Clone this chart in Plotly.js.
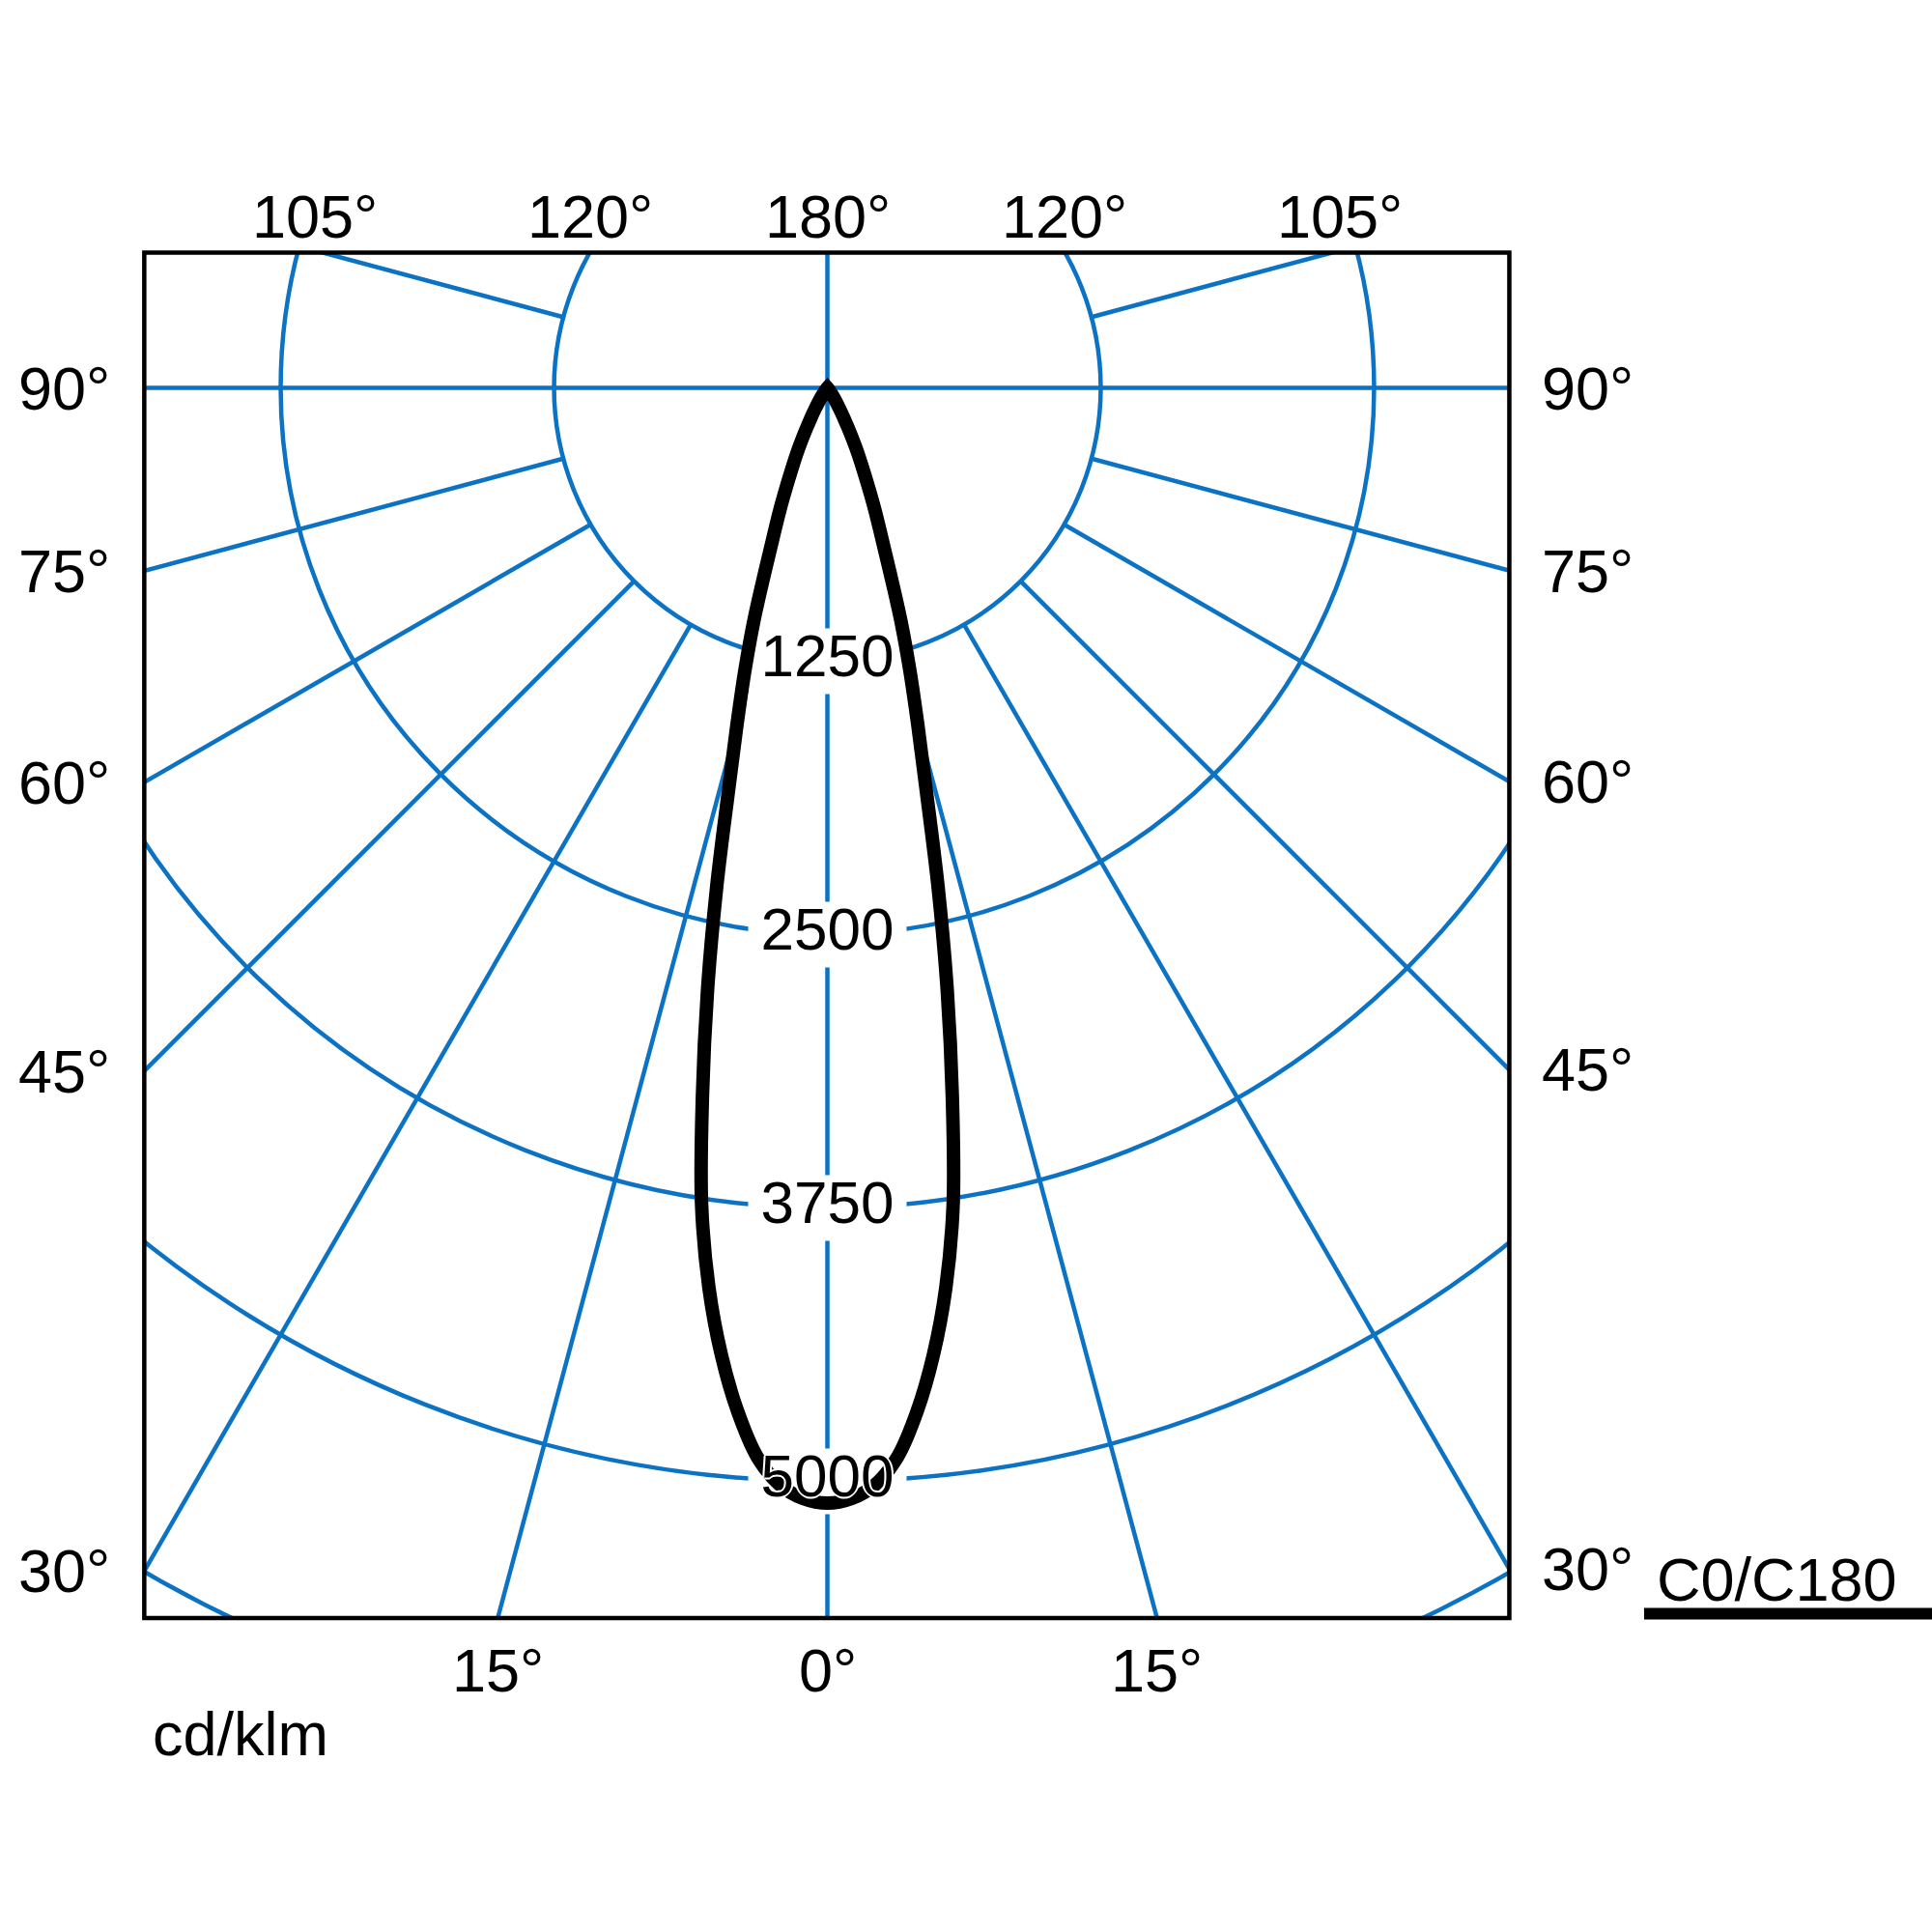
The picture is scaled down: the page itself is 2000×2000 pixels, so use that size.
<!DOCTYPE html>
<html>
<head>
<meta charset="utf-8">
<script src="https://cdn.plot.ly/plotly-3.0.1.min.js"></script>
<style>
html, body { margin: 0; padding: 0; background: #ffffff; overflow: hidden; }
#wrap { position: relative; width: 2000px; height: 2000px; overflow: hidden; background: #ffffff; }
#plot { position: absolute; }
</style>
</head>
<body>
<div id="wrap"><div id="plot"></div></div>
<script>
// ---------------- data ----------------
const gammaDeg      = [0, 1.25, 2.5, 3.75, 5, 6.25, 7.5, 8.75, 10, 11.25, 12.5, 13.75, 15, 16.25, 17.5, 18.75,
                       20, 21.25, 22.5, 23.75, 25, 26.25, 27.5, 28.75, 30, 32.5, 35, 40, 45, 60, 75, 90];
const intensityC0   = [5100, 5080, 5020, 4900, 4700, 4450, 4150, 3780, 3290, 2810, 2340, 1910, 1600, 1350, 1120, 890,
                       720, 600, 490, 400, 330, 260, 200, 155, 115, 65, 35, 8, 0, 0, 0, 0];
const intensityC180 = [5100, 5080, 5020, 4900, 4700, 4450, 4150, 3780, 3290, 2810, 2340, 1910, 1600, 1350, 1120, 890,
                       720, 600, 490, 400, 330, 260, 200, 155, 115, 65, 35, 8, 0, 0, 0, 0];

const ringValues      = [1250, 2500, 3750, 5000, 6250];
const ringLabelValues = [1250, 2500, 3750, 5000];
const ringLabels      = ['1250', '2500', '3750', '5000'];
const spokeAngles     = [15, 30, 45, 60, 75, 105, 120, 135, 150, 165];

const leftTickText     = ['90°', '75°', '60°', '45°', '30°'];
const leftTickAngles   = [-90, -75, -60, -45, -30];
const rightTickText    = ['90°', '75°', '60°', '45°', '30°'];
const rightTickAngles  = [90, 75, 60, 45, 30];
const topTickText      = ['105°', '120°', '180°', '120°', '105°'];
const topTickAngles    = [-105, -120, 180, 120, 105];
const bottomTickText   = ['15°', '0°', '15°'];
const bottomTickAngles = [-15, 0, 15];

const unitLabel = 'cd/klm';
const curveName = 'C0/C180';

// ---------------- geometry / style ----------------
const BLUE = '#0b72c4';
const FONT = 'Liberation Sans, Arial, Helvetica, sans-serif';
const LABEL_SIZE = 63;
const CX = 856.5, CY = 402;            // pole position in the window
const PX_PER_UNIT = 283 / 1250;        // ring spacing
const RMAX = 6500;
const S = 2 * RMAX * PX_PER_UNIT;      // size of the polar plot div
const L = CX - S / 2, T = CY - S / 2;  // div offset inside the window
const BOX = { left: 149.3, right: 1562.5, top: 262, bottom: 1675.5 };
const TOP_LABEL_SHIFT = { 105: 8, 120: 3, 180: 0 };   // outward nudge of the top labels

const el = document.getElementById('plot');
el.style.left = L + 'px';
el.style.top = T + 'px';
el.style.width = S + 'px';
el.style.height = S + 'px';

const px = X => (X - L) / S;
const py = Y => 1 - (Y - T) / S;

// ---------------- traces ----------------
const spokeR = [], spokeT = [];
spokeAngles.forEach(a => {
  [a, -a].forEach(t => { spokeR.push(ringValues[0], RMAX, null); spokeT.push(t, t, null); });
});
spokeR.push(RMAX, 0, RMAX, null, RMAX, 0, RMAX);
spokeT.push(180, 0, 0, null, -90, 0, 90);

const spokes = {
  type: 'scatterpolar', mode: 'lines', r: spokeR, theta: spokeT,
  line: { color: BLUE, width: 4.5 }, hoverinfo: 'skip', showlegend: false
};

// white gaps behind the ring value labels
const GAP_HALF_W = 82, GAP_H = 68;
const gapR = [], gapT = [];
ringLabelValues.forEach(v => {
  const d = Math.atan(GAP_HALF_W / (v * PX_PER_UNIT));
  const rr = v / Math.cos(d);
  const dd = d * 180 / Math.PI;
  gapR.push(rr, rr, null); gapT.push(-dd, dd, null);
});
const gaps = {
  type: 'scatterpolar', mode: 'lines', r: gapR, theta: gapT,
  line: { color: '#ffffff', width: GAP_H }, hoverinfo: 'skip', showlegend: false
};

// intensity curve: C180 half on the left, C0 half on the right
const curveTheta = [], curveR = [];
for (let i = gammaDeg.length - 1; i > 0; i--) { curveTheta.push(-gammaDeg[i]); curveR.push(intensityC180[i]); }
for (let i = 0; i < gammaDeg.length; i++) { curveTheta.push(gammaDeg[i]); curveR.push(intensityC0[i]); }
const curve = {
  type: 'scatterpolar', mode: 'lines', name: curveName, r: curveR, theta: curveTheta,
  line: { color: '#000000', width: 14, shape: 'spline', smoothing: 1 }, showlegend: false
};

const ringText = {
  type: 'scatterpolar', mode: 'text', r: ringLabelValues, theta: ringLabelValues.map(() => 0),
  text: ringLabels, textposition: 'middle center',
  textfont: { family: FONT, size: 62, color: '#000000',
              shadow: '2px 0 0 #fff, -2px 0 0 #fff, 0 2px 0 #fff, 0 -2px 0 #fff' },
  hoverinfo: 'skip', showlegend: false
};

// ---------------- annotations (angle labels outside the frame) ----------------
const rad = a => a * Math.PI / 180;
const ann = [];
const addAnn = (text, X, Y, xanchor) => ann.push({
  text, x: px(X), y: py(Y), xref: 'paper', yref: 'paper', xanchor, yanchor: 'middle',
  showarrow: false, font: { family: FONT, size: LABEL_SIZE, color: '#000000' }
});
leftTickAngles.forEach((a, i) => {
  const t = (BOX.left - CX) / Math.sin(rad(a));
  addAnn(leftTickText[i], BOX.left - 33, CY + t * Math.cos(rad(a)), 'right');
});
rightTickAngles.forEach((a, i) => {
  const t = (BOX.right - CX) / Math.sin(rad(a));
  addAnn(rightTickText[i], BOX.right + 32, CY + t * Math.cos(rad(a)), 'left');
});
topTickAngles.forEach((a, i) => {
  const t = (BOX.top - CY) / Math.cos(rad(a));
  const X = CX + t * Math.sin(rad(a)) + Math.sign(a === 180 ? 0 : a) * TOP_LABEL_SHIFT[Math.abs(a)];
  addAnn(topTickText[i], X, BOX.top - 38, 'center');
});
bottomTickAngles.forEach((a, i) => {
  const t = (BOX.bottom - CY) / Math.cos(rad(a));
  addAnn(bottomTickText[i], CX + t * Math.sin(rad(a)), BOX.bottom + 54.5, 'center');
});
addAnn(unitLabel, 155.5, 1796, 'left');
addAnn(curveName, 1712.7, 1636, 'left');

// ---------------- shapes: mask outside the frame, frame, legend line ----------------
const white = { type: 'rect', xref: 'paper', yref: 'paper', fillcolor: '#ffffff', line: { width: 0 }, layer: 'above' };
const shapes = [
  Object.assign({}, white, { x0: 0, x1: 1, y0: py(BOX.top), y1: 1 }),
  Object.assign({}, white, { x0: 0, x1: 1, y0: 0, y1: py(BOX.bottom) }),
  Object.assign({}, white, { x0: 0, x1: px(BOX.left), y0: 0, y1: 1 }),
  Object.assign({}, white, { x0: px(BOX.right), x1: 1, y0: 0, y1: 1 }),
  { type: 'rect', xref: 'paper', yref: 'paper', layer: 'above',
    x0: px(BOX.left), x1: px(BOX.right), y0: py(BOX.bottom), y1: py(BOX.top),
    fillcolor: 'rgba(0,0,0,0)', line: { color: '#000000', width: 4.5 } },
  { type: 'line', xref: 'paper', yref: 'paper', layer: 'above',
    x0: px(1702), x1: px(2010), y0: py(1671), y1: py(1671),
    line: { color: '#000000', width: 12 } }
];

const layout = {
  width: S, height: S, autosize: false,
  margin: { l: 0, r: 0, t: 0, b: 0, pad: 0 },
  paper_bgcolor: '#ffffff', showlegend: false,
  polar: {
    domain: { x: [0, 1], y: [0, 1] },
    bgcolor: '#ffffff',
    angularaxis: { rotation: -90, direction: 'counterclockwise', showgrid: false,
                   showline: false, showticklabels: false, ticks: '' },
    radialaxis: { range: [0, RMAX], autorange: false, tickvals: ringValues, showgrid: true,
                  gridcolor: BLUE, gridwidth: 4.5, showline: false, showticklabels: false, ticks: '' }
  },
  shapes, annotations: ann
};

Plotly.newPlot(el, [spokes, gaps, curve, ringText], layout, { staticPlot: true, displayModeBar: false });
</script>
</body>
</html>
